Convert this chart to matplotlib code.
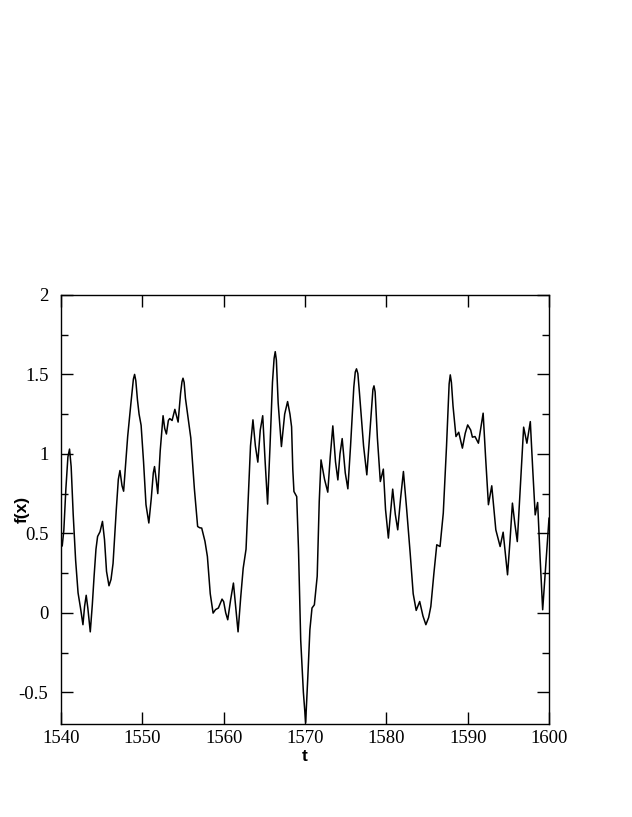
"""Time series f(x) over t = 1540..1600, redrawn from a reference plot."""

import matplotlib

matplotlib.use("Agg")
import matplotlib.pyplot as plt
from matplotlib.ticker import FixedLocator, MultipleLocator, NullLocator

# Values
T_VALUES = [
    1540.00, 1540.15, 1540.35, 1540.60, 1540.85, 1541.05, 1541.25, 1541.50, 1541.80, 1542.10,
    1542.40, 1542.70, 1542.90, 1543.10, 1543.30, 1543.60, 1543.85, 1544.07, 1544.30, 1544.50,
    1544.80, 1545.10, 1545.35, 1545.60, 1545.90, 1546.15, 1546.40, 1546.80, 1547.05, 1547.25,
    1547.50, 1547.70, 1547.95, 1548.20, 1548.60, 1548.90, 1549.05, 1549.20, 1549.40, 1549.60,
    1549.85, 1550.15, 1550.45, 1550.80, 1551.10, 1551.35, 1551.50, 1551.70, 1551.90, 1552.20,
    1552.55, 1552.75, 1552.96, 1553.20, 1553.37, 1553.66, 1554.00, 1554.20, 1554.40, 1554.70,
    1554.88, 1555.00, 1555.14, 1555.30, 1555.96, 1556.40, 1556.80, 1557.05, 1557.30, 1557.70,
    1558.00, 1558.35, 1558.70, 1559.00, 1559.35, 1559.80, 1560.00, 1560.25, 1560.50, 1560.85,
    1561.20, 1561.45, 1561.77, 1562.10, 1562.40, 1562.75, 1563.00, 1563.30, 1563.60, 1563.90,
    1564.20, 1564.50, 1564.80, 1565.10, 1565.40, 1565.70, 1566.00, 1566.20, 1566.34, 1566.48,
    1566.70, 1567.10, 1567.50, 1567.86, 1568.15, 1568.35, 1568.50, 1568.64, 1568.98, 1569.20,
    1569.47, 1569.80, 1570.08, 1570.35, 1570.60, 1570.86, 1571.15, 1571.50, 1571.75, 1571.97,
    1572.40, 1572.80, 1573.10, 1573.42, 1573.75, 1574.04, 1574.30, 1574.57, 1574.95, 1575.27,
    1575.60, 1576.00, 1576.18, 1576.33, 1576.50, 1576.70, 1577.20, 1577.60, 1578.00, 1578.35,
    1578.48, 1578.62, 1578.90, 1579.26, 1579.63, 1579.90, 1580.25, 1580.50, 1580.78, 1581.10,
    1581.40, 1581.75, 1582.10, 1582.50, 1582.93, 1583.30, 1583.67, 1584.10, 1584.50, 1584.86,
    1585.20, 1585.47, 1585.85, 1586.20, 1586.60, 1587.00, 1587.40, 1587.72, 1587.86, 1588.00,
    1588.20, 1588.56, 1588.90, 1589.35, 1589.70, 1590.00, 1590.37, 1590.58, 1590.90, 1591.32,
    1591.60, 1591.90, 1592.20, 1592.55, 1592.96, 1593.46, 1593.99, 1594.36, 1594.90, 1595.20,
    1595.50, 1595.80, 1596.10, 1596.50, 1596.88, 1597.28, 1597.70, 1598.00, 1598.30, 1598.60,
    1598.90, 1599.22, 1599.60, 1600.00,
]

F_VALUES = [
    0.440, 0.420, 0.520, 0.780, 0.980, 1.030, 0.920, 0.620, 0.330, 0.125,
    0.030, -0.075, 0.040, 0.110, 0.030, -0.120, 0.050, 0.230, 0.400, 0.480,
    0.510, 0.575, 0.460, 0.260, 0.170, 0.210, 0.310, 0.650, 0.840, 0.895,
    0.800, 0.765, 0.940, 1.110, 1.320, 1.470, 1.500, 1.460, 1.340, 1.250,
    1.180, 0.950, 0.680, 0.565, 0.720, 0.880, 0.920, 0.840, 0.750, 1.020,
    1.240, 1.160, 1.125, 1.210, 1.222, 1.210, 1.280, 1.240, 1.200, 1.380,
    1.455, 1.476, 1.450, 1.350, 1.100, 0.780, 0.543, 0.535, 0.533, 0.450,
    0.354, 0.120, -0.002, 0.020, 0.030, 0.086, 0.070, 0.000, -0.044, 0.080,
    0.187, 0.050, -0.120, 0.100, 0.280, 0.400, 0.700, 1.050, 1.214, 1.050,
    0.948, 1.150, 1.240, 0.950, 0.684, 1.050, 1.450, 1.600, 1.643, 1.590,
    1.320, 1.046, 1.250, 1.329, 1.250, 1.170, 0.900, 0.763, 0.731, 0.400,
    -0.170, -0.500, -0.690, -0.400, -0.107, 0.030, 0.050, 0.230, 0.700, 0.962,
    0.840, 0.759, 0.980, 1.176, 0.950, 0.836, 1.000, 1.096, 0.880, 0.780,
    1.050, 1.420, 1.515, 1.535, 1.505, 1.380, 1.050, 0.868, 1.150, 1.405,
    1.428, 1.390, 1.100, 0.826, 0.904, 0.650, 0.470, 0.620, 0.778, 0.620,
    0.522, 0.720, 0.889, 0.650, 0.375, 0.120, 0.015, 0.071, -0.020, -0.075,
    -0.030, 0.040, 0.250, 0.428, 0.417, 0.627, 1.050, 1.440, 1.497, 1.450,
    1.300, 1.109, 1.136, 1.036, 1.130, 1.182, 1.150, 1.105, 1.109, 1.067,
    1.160, 1.256, 0.980, 0.680, 0.799, 0.522, 0.417, 0.507, 0.239, 0.450,
    0.690, 0.560, 0.448, 0.820, 1.168, 1.067, 1.203, 0.900, 0.616, 0.694,
    0.350, 0.019, 0.300, 0.595,
]

X_TICKS = [1540, 1550, 1560, 1570, 1580, 1590, 1600]
Y_TICKS = [-0.5, 0, 0.5, 1, 1.5, 2]
Y_TICK_LABELS = ["-0.5", "0", "0.5", "1", "1.5", "2"]


def main() -> None:
    fig = plt.figure(figsize=(6.32, 8.17), dpi=100)
    ax = fig.add_axes([0.0965, 0.1138, 0.7722, 0.5252])

    ax.plot(T_VALUES, F_VALUES, color="black", linewidth=1.1,
            solid_joinstyle="round", antialiased=True)

    ax.set_xlim(1540, 1600)
    ax.set_ylim(-0.7, 2.0)

    ax.xaxis.set_major_locator(FixedLocator(X_TICKS))
    ax.xaxis.set_minor_locator(NullLocator())
    ax.set_xticklabels([str(v) for v in X_TICKS])
    ax.yaxis.set_major_locator(FixedLocator(Y_TICKS))
    ax.yaxis.set_minor_locator(MultipleLocator(0.25))
    ax.set_yticklabels(Y_TICK_LABELS)

    ax.tick_params(which="both", direction="in", top=True, right=True, width=1.0)
    ax.tick_params(which="major", length=8.6)
    ax.tick_params(which="minor", length=4.8)
    ax.tick_params(axis="x", which="major", pad=4)
    ax.tick_params(axis="y", which="major", pad=9)

    for label in ax.get_xticklabels() + ax.get_yticklabels():
        label.set_family("Liberation Serif")
        label.set_fontsize(13.5)

    for spine in ax.spines.values():
        spine.set_linewidth(1.0)

    ax.set_xlabel("t", family="Liberation Sans", fontweight="bold", fontsize=12.5, labelpad=2)
    ax.set_ylabel("f(x)", family="Liberation Sans", fontweight="bold", fontsize=12.5)
    ax.yaxis.set_label_coords(-0.064, 0.5)

    fig.savefig("out.png", dpi=100)
    plt.close(fig)


if __name__ == "__main__":
    main()
